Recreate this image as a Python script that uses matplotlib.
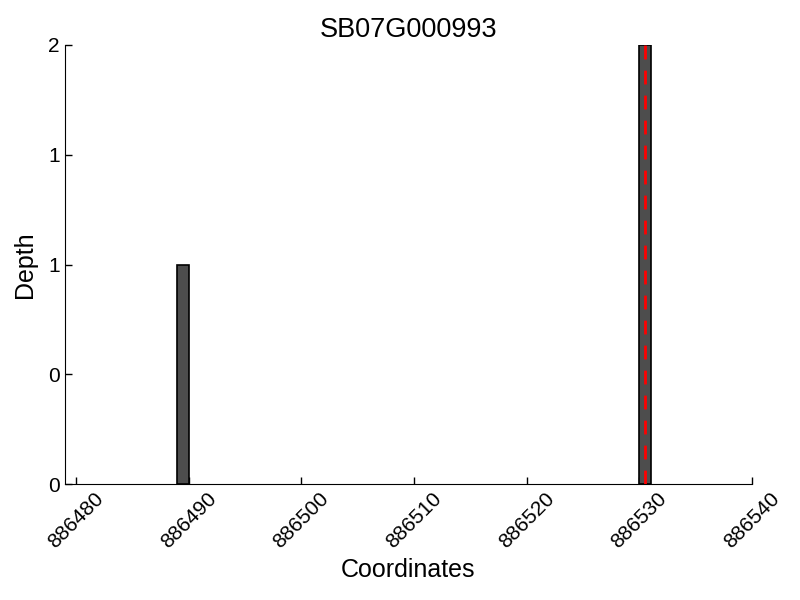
import matplotlib
matplotlib.use("Agg")
import matplotlib.pyplot as plt
from matplotlib.ticker import FormatStrFormatter, MultipleLocator

plt.rcParams['font.family'] = ['Liberation Sans', 'DejaVu Sans']

title = "SB07G000993"
positions = [886489.5, 886530.5]
depths = [1, 2]
marker_pos = 886530.5
xticks = [886480, 886490, 886500, 886510, 886520, 886530, 886540]

fig = plt.figure(figsize=(8, 6), dpi=100)
ax = fig.add_axes([0.081, 0.193, 0.859, 0.732])
ax.bar(positions, depths, width=1, color='#4d4d4d', edgecolor='black', linewidth=1.2, zorder=2)
ax.axvline(marker_pos, color='red', linestyle='--', linewidth=2, dashes=(5, 4), zorder=3)
ax.set_xlim(886479, 886540)
ax.set_ylim(0, 2)
ax.set_xticks(xticks)
ax.set_xticklabels([str(t) for t in xticks], rotation=45, fontsize=15)
ax.yaxis.set_major_locator(MultipleLocator(0.5))
ax.yaxis.set_major_formatter(FormatStrFormatter('%d'))
ax.tick_params(axis='y', labelsize=15)
ax.tick_params(direction='in', length=5, width=1)
ax.spines['top'].set_visible(False)
ax.spines['right'].set_visible(False)
ax.set_xlabel("Coordinates", fontsize=18)
ax.set_ylabel("Depth", fontsize=18, labelpad=8)
ax.set_title(title, fontsize=19.5)
fig.savefig("out.png", dpi=100)
